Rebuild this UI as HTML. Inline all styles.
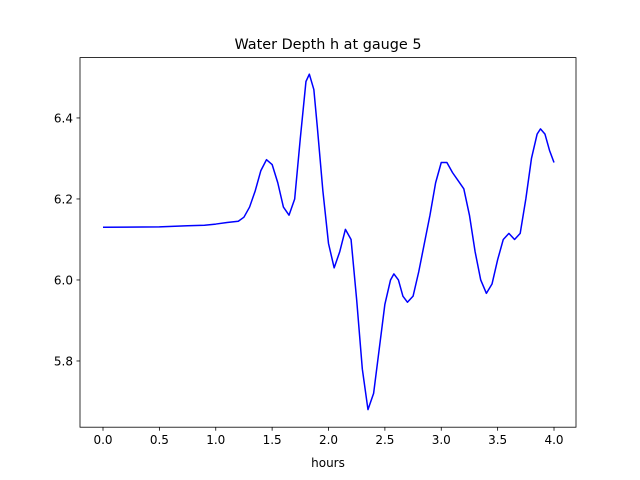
<!DOCTYPE html>
<html><head><meta charset="utf-8"><style>
html,body{margin:0;padding:0;background:#fff;}
svg{display:block;font-family:"DejaVu Sans","Liberation Sans",sans-serif;}
</style></head><body>
<svg id="chart" width="640" height="480" viewBox="0 0 640 480">
<rect x="0" y="0" width="640" height="480" fill="#fff"/>
<text x="328" y="49" text-anchor="middle" font-size="14.4">Water Depth h at gauge 5</text>
<g id="plot"></g>
<text x="328" y="467" text-anchor="middle" font-size="12">hours</text>
</svg>
<script>
const times=[0,0.5,0.75,0.9,1.0,1.1,1.2,1.25,1.3,1.35,1.4,1.45,1.5,1.55,1.6,1.65,1.7,1.75,1.8,1.83,1.87,1.9,1.95,2.0,2.05,2.1,2.15,2.2,2.25,2.3,2.35,2.4,2.45,2.5,2.55,2.58,2.62,2.66,2.7,2.75,2.8,2.9,2.95,3.0,3.05,3.1,3.15,3.2,3.25,3.3,3.35,3.4,3.45,3.5,3.55,3.6,3.65,3.7,3.75,3.8,3.85,3.88,3.92,3.96,4.0];
const depth=[6.13,6.131,6.134,6.135,6.138,6.142,6.145,6.155,6.18,6.22,6.27,6.297,6.285,6.24,6.18,6.16,6.2,6.35,6.49,6.508,6.47,6.38,6.22,6.09,6.03,6.07,6.125,6.1,5.95,5.78,5.68,5.72,5.83,5.94,6.0,6.015,6.0,5.96,5.945,5.96,6.02,6.16,6.24,6.29,6.29,6.265,6.245,6.225,6.16,6.07,6.0,5.967,5.99,6.05,6.1,6.115,6.1,6.115,6.2,6.3,6.36,6.373,6.36,6.32,6.29];
const xTicks=[0,0.5,1,1.5,2,2.5,3,3.5,4];
const xTickLabels=["0.0","0.5","1.0","1.5","2.0","2.5","3.0","3.5","4.0"];
const yTicks=[5.8,6.0,6.2,6.4];
const yTickLabels=["5.8","6.0","6.2","6.4"];

const L=80,R=576,T=57.6,B=427.2;
const xMin=-0.204,xMax=4.195,yMin=5.6365,yMax=6.549;
const sx=v=>L+(v-xMin)/(xMax-xMin)*(R-L);
const sy=v=>B-(v-yMin)/(yMax-yMin)*(B-T);
const NS="http://www.w3.org/2000/svg";
const g=document.getElementById('plot');
function mk(tag,attrs){const e=document.createElementNS(NS,tag);for(const k in attrs)e.setAttribute(k,attrs[k]);g.appendChild(e);return e;}

const line=mk('polyline',{points:times.map((t,i)=>sx(t).toFixed(2)+','+sy(depth[i]).toFixed(2)).join(' '),fill:'none',stroke:'#0000ff','stroke-width':1.5,'stroke-linejoin':'round'});



const frame=mk('rect',{x:L,y:T,width:R-L,height:B-T,fill:'none',stroke:'#000','stroke-width':0.8});



xTicks.forEach((v,i)=>{
  const x=sx(v);
  const tk=mk('line',{x1:x,x2:x,y1:B,y2:B+3.5,stroke:'#000','stroke-width':0.8});
  
  
  const tx=mk('text',{x:x,y:B+17,'text-anchor':'middle','font-size':12});
  tx.textContent=xTickLabels[i];
  
  
});
yTicks.forEach((v,i)=>{
  const y=sy(v);
  const tk=mk('line',{x1:L-3.5,x2:L,y1:y,y2:y,stroke:'#000','stroke-width':0.8});
  
  
  const tx=mk('text',{x:L-7,y:y+4.5,'text-anchor':'end','font-size':12});
  tx.textContent=yTickLabels[i];
  
  
});
</script>
</body></html>
